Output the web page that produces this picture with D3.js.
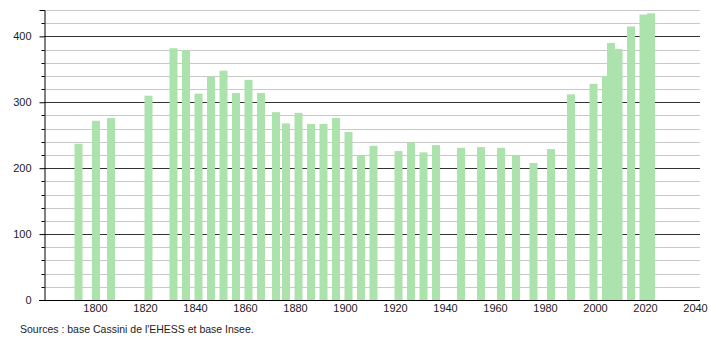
<!DOCTYPE html>
<html>
<head>
<meta charset="utf-8">
<script src="https://cdn.jsdelivr.net/npm/d3@7"></script>
<style>
  body { margin: 0; background: #fff; }
  text { font-family: "Liberation Sans", Arial, sans-serif; fill: #222; }
</style>
</head>
<body>
<svg width="710" height="340"></svg>
<script>
// census years and population
var years = [1793, 1800, 1806, 1821, 1831, 1836, 1841, 1846, 1851, 1856,
             1861, 1866, 1872, 1876, 1881, 1886, 1891, 1896, 1901, 1906,
             1911, 1921, 1926, 1931, 1936, 1946, 1954, 1962, 1968, 1975,
             1982, 1990, 1999, 2004, 2006, 2009, 2014, 2019, 2022];
var pop = [237, 272, 276, 310, 382, 379, 313, 339, 348, 314,
           334, 314, 285, 268, 284, 267, 267, 276, 255, 219,
           234, 226, 239, 224, 235, 231, 232, 231, 219, 208,
           229, 312, 328, 340, 390, 381, 415, 433, 435];
var xTicks = [1800, 1820, 1840, 1860, 1880, 1900, 1920, 1940, 1960, 1980, 2000, 2020, 2040];
var yTicks = [0, 100, 200, 300, 400];
var source = "Sources : base Cassini de l'EHESS et base Insee.";

var svg = d3.select("svg"),
    pLeft = 44, pRight = 700, pTop = 10, pBottom = 300;

var x = d3.scaleLinear().domain([1779.6, 2042]).range([pLeft, pRight]);
var y = d3.scaleLinear().domain([0, 440]).range([pBottom, pTop]);

// grid: light every 20, dark every 100
var minor = d3.range(20, 441, 20).filter(function(v) { return v % 100 != 0; });
svg.append("g").selectAll("line").data(minor).enter().append("line")
    .attr("x1", pLeft).attr("x2", pRight)
    .attr("y1", function(d) { return Math.round(y(d)) + 0.5; })
    .attr("y2", function(d) { return Math.round(y(d)) + 0.5; })
    .attr("stroke", "#c8c8c8");

svg.append("g").selectAll("line").data(yTicks.slice(1)).enter().append("line")
    .attr("x1", pLeft).attr("x2", pRight)
    .attr("y1", function(d) { return Math.round(y(d)) + 0.5; })
    .attr("y2", function(d) { return Math.round(y(d)) + 0.5; })
    .attr("stroke", "#333");

// bars
svg.append("g").selectAll("rect").data(years).enter().append("rect")
    .attr("x", function(d) { return x(d) - 3; })
    .attr("width", 8)
    .attr("y", function(d, i) { return y(pop[i]); })
    .attr("height", function(d, i) { return pBottom - y(pop[i]); })
    .attr("fill", "#ace2ac");

// y axis with minor ticks
var yAxis = svg.append("g").attr("transform", "translate(" + (pLeft + 0.5) + ",0)");
yAxis.call(d3.axisLeft(y).tickValues(yTicks).tickSize(5).tickPadding(8));
yAxis.selectAll(".tick line").attr("stroke", "#000");
yAxis.select(".domain").attr("stroke", "#000");
yAxis.selectAll(".tick text").style("font-size", "11px").attr("fill", "#222");
yAxis.selectAll(".mtick").data(minor).enter().append("line")
    .attr("class", "mtick")
    .attr("x1", -3).attr("x2", 0)
    .attr("y1", function(d) { return Math.round(y(d)) + 0.5; })
    .attr("y2", function(d) { return Math.round(y(d)) + 0.5; })
    .attr("stroke", "#000");

// x axis
var xAxis = svg.append("g").attr("transform", "translate(0," + (pBottom + 0.5) + ")");
xAxis.call(d3.axisBottom(x).tickValues(xTicks).tickFormat(d3.format("d")).tickSize(0).tickPadding(4));
xAxis.select(".domain").attr("stroke", "#000").attr("d", "M" + (pLeft - 5) + ",0H" + pRight);
xAxis.selectAll(".tick text").style("font-size", "11px").attr("fill", "#222");

svg.append("text")
    .attr("x", 20).attr("y", 333)
    .style("font-size", "10.5px")
    .text(source);
</script>
</body>
</html>
